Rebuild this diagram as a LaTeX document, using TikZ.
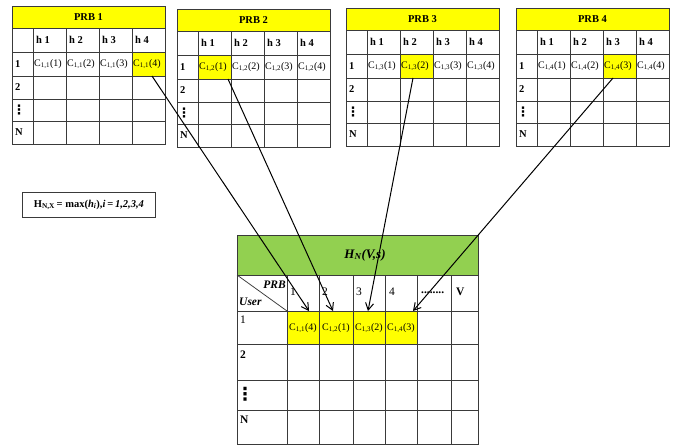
\documentclass[tikz,border=0pt]{standalone}
\usepackage{fontspec}
\setmainfont{Liberation Serif}
\newfontfamily\symfam{DejaVu Sans}
\usetikzlibrary{arrows.meta,calc}
\definecolor{prbyellow}{HTML}{FFFF00}
\definecolor{hgreen}{HTML}{92D050}
\definecolor{gridc}{HTML}{3A3A3A}
\newcommand\vdotsym{{\symfam\bfseries ⋮}}
\tikzset{
  gridline/.style={draw=gridc, line width=0.75pt},
  titletxt/.style={font=\bfseries\fontsize{10.5}{12}\selectfont, inner sep=0pt},
  hdtxt/.style={font=\bfseries\fontsize{10.5}{12}\selectfont, anchor=west, inner sep=0pt},
  celltxt/.style={font=\fontsize{10}{12}\selectfont, anchor=west, inner sep=0pt},
  bigtxt/.style={font=\bfseries\fontsize{11.5}{13}\selectfont, anchor=west, inner sep=0pt},
  bignum/.style={font=\fontsize{11.5}{13}\selectfont, anchor=west, inner sep=0pt},
  bigcell/.style={font=\fontsize{10}{12}\selectfont, inner sep=0pt},
  link/.style={draw=black, line width=1pt, -{Straight Barb[length=7pt,width=8pt]}},
}
% #1 name, #2 x, #3 y, #4 PRB number, #5 highlighted column, #6 arrow start offset in cell
\newcommand\prbtab[6]{%
\begin{scope}[shift={(#2,#3)}]
  \fill[prbyellow] (0,0) rectangle (153,22);
  \fill[prbyellow] ({21+33*(#5-1)},46) rectangle ++(33,24);
  \draw[gridline] (0,0) rectangle (153,138);
  \foreach \yy in {22,46,70,93,115} \draw[gridline] (0,\yy) -- (153,\yy);
  \foreach \xx in {21,54,87,120} \draw[gridline] (\xx,22) -- (\xx,138);
  \node[titletxt] (#1-t) at (76.5,11) {PRB #4};
  \foreach \c in {1,...,4} {
    \node[hdtxt] (#1-h\c) at ({21+33*(\c-1)+3},34) {h \c};
    \node[celltxt] (#1-c\c) at ({21+33*(\c-1)+1},58) {C\textsubscript{1,#4}(\c)};
  }
  \node[hdtxt] (#1-r1) at (3,58) {1};
  \node[hdtxt] (#1-r2) at (3,81) {2};
  \node[hdtxt, font=\fontsize{13}{14}\selectfont] (#1-r3) at (0.5,104) {\vdotsym};
  \node[hdtxt] (#1-r4) at (3,126) {N};
  \coordinate (#1-s) at ({21+33*(#5-1)+#6},70);
\end{scope}}
\begin{document}
\begin{tikzpicture}[x=1pt,y=-1pt]
\useasboundingbox (0,0) rectangle (675,445);
\fill[white] (0,0) rectangle (675,445);

\prbtab{p1}{12}{6}{1}{4}{20}
\prbtab{p2}{177}{9}{2}{1}{30}
\prbtab{p3}{346}{8}{3}{2}{13}
\prbtab{p4}{516}{8}{4}{3}{10}

% formula box
\node[draw=gridc, line width=0.75pt, minimum width=133, minimum height=25, anchor=north west, inner sep=0pt] (fbox) at (22,192) {};
\node[font=\bfseries\fontsize{10.5}{12}\selectfont, inner sep=0pt] (ftxt) at (fbox.center)
  {H\textsubscript{N,X}\,= max(\textit{h}\textsubscript{\textit{i}}),\textit{i}\,=\,\textit{1,2,3,4}};

% big table
\fill[hgreen] (237,235) rectangle (478,275);
\fill[prbyellow] (287,311) rectangle (417,344);
\draw[gridline] (237,235) rectangle (478,444);
\foreach \yy in {275,311,344,380,410} \draw[gridline] (237,\yy) -- (478,\yy);
\foreach \xx in {287,319,353,385,417,451} \draw[gridline] (\xx,275) -- (\xx,444);
\draw[gridline] (237,275) -- (287,311);
\node[font=\bfseries\itshape\fontsize{13}{15}\selectfont, inner sep=0pt] (bt) at (365,255)
  {H\textsubscript{N}(V,s)};
\node[font=\bfseries\itshape\fontsize{11.5}{13}\selectfont, anchor=east, inner sep=0pt] (bprb) at (286,285) {PRB};
\node[font=\bfseries\itshape\fontsize{11.5}{13}\selectfont, anchor=west, inner sep=0pt] (buser) at (239,302) {User};
\node[bignum] (bh1) at (290,292) {1};
\node[bignum] (bh2) at (322,292) {2};
\node[bignum] (bh3) at (356,292) {3};
\node[bignum] (bh4) at (389,292) {4};
\node[bigtxt] (bh5) at (421,293) {........};
\node[bigtxt] (bh6) at (456,292) {V};
\node[bignum] (br1) at (240,320) {1};
\node[bigtxt] (br2) at (240,355) {2};
\node[bigtxt, font=\fontsize{18}{20}\selectfont] (br3) at (236,394) {\vdotsym};
\node[bigtxt] (br4) at (240,420) {N};
\node[bigcell] (b1) at (303,328) {C\textsubscript{1,1}(4)};
\node[bigcell] (b2) at (336,328) {C\textsubscript{1,2}(1)};
\node[bigcell] (b3) at (369,328) {C\textsubscript{1,3}(2)};
\node[bigcell] (b4) at (401,328) {C\textsubscript{1,4}(3)};
\coordinate (e1) at (309,311);
\coordinate (e2) at (333,311);
\coordinate (e3) at (368,311);
\coordinate (e4) at (413,311);

% arrows
\draw[link] (p1-s) -- (e1);
\draw[link] (p2-s) -- (e2);
\draw[link] (p3-s) -- (e3);
\draw[link] (p4-s) -- (e4);
\end{tikzpicture}
\end{document}
